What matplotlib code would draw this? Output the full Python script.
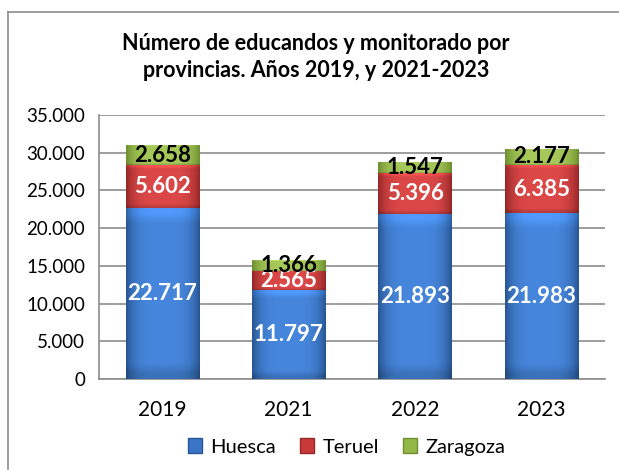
import matplotlib
matplotlib.use("Agg")
import matplotlib.pyplot as plt
import matplotlib.patches as patches
import numpy as np

plt.rcParams['font.family'] = ['Lato', 'DejaVu Sans']

years = ["2019", "2021", "2022", "2023"]
huesca = [22717, 11797, 21893, 21983]
teruel = [5602, 2565, 5396, 6385]
zaragoza = [2658, 1366, 1547, 2177]
yticks = [0, 5000, 10000, 15000, 20000, 25000, 30000, 35000]

title = "Número de educandos y monitorado por\nprovincias. Años 2019, y 2021-2023"

# base colour, light colour (centre), dark colour (edges), label colour
styles = {
    "Huesca": ("#3a74c6", "#4686dc", "#285693", "white"),
    "Teruel": ("#c93939", "#dc4848", "#982828", "white"),
    "Zaragoza": ("#93b848", "#a6c95a", "#6f8f30", "black"),
}


def fmt(v):
    return f"{v:,}".replace(",", ".")


def shade(ax, bar, light, dark):
    # horizontal bevel-ish gradient, clipped to the bar
    x0, y0 = bar.get_x(), bar.get_y()
    w, h = bar.get_width(), bar.get_height()
    t = np.linspace(-1, 1, 64)
    prof = np.clip(np.abs(t) ** 4, 0, 1)
    c1 = np.array(matplotlib.colors.to_rgb(light))
    c2 = np.array(matplotlib.colors.to_rgb(dark))
    row = c1[None, :] * (1 - prof[:, None]) + c2[None, :] * prof[:, None]
    img = np.repeat(row[None, :, :], 16, axis=0)
    # lighter top strip
    img[-1] = np.clip(img[-1] * 1.15, 0, 1)
    img[0] = img[0] * 0.85
    im = ax.imshow(img, extent=[x0, x0 + w, y0, y0 + h], origin="lower",
                   aspect="auto", zorder=3, interpolation="bilinear")
    im.set_clip_path(bar)


fig = plt.figure(figsize=(6.19, 4.70), dpi=100)
ax = fig.add_axes([0.16, 0.1936, 0.817, 0.5617])

# outer chart border (left and top visible)
fig.add_artist(plt.Line2D([8 / 619, 8 / 619], [0, 1 - 12 / 470], color="#8c8c8c", lw=1.2))
fig.add_artist(plt.Line2D([8 / 619, 1], [1 - 12 / 470, 1 - 12 / 470], color="#8c8c8c", lw=1.2))

x = np.arange(len(years))
bottom = np.zeros(len(years))
handles = []
for name, vals in [("Huesca", huesca), ("Teruel", teruel), ("Zaragoza", zaragoza)]:
    base, light, dark, tc = styles[name]
    bars = ax.bar(x, vals, 0.58, bottom=bottom, color=base, edgecolor="none",
                  zorder=2, label=name)
    for b, v in zip(bars, vals):
        shade(ax, b, light, dark)
        ax.text(b.get_x() + b.get_width() / 2, b.get_y() + b.get_height() / 2,
                fmt(v), ha="center", va="center", color=tc, fontsize=16,
                fontweight="bold", zorder=5)
    handles.append(patches.Patch(facecolor=base, edgecolor=dark, label=name))
    bottom += np.array(vals)

ax.set_xlim(-0.5, len(years) - 0.5)
ax.set_ylim(0, 35000)
ax.set_yticks(yticks)
ax.set_yticklabels([fmt(v) for v in yticks], fontsize=13.5)
ax.set_xticks(x)
ax.set_xticklabels(years, fontsize=15)
ax.tick_params(axis="both", length=0, pad=10)
ax.tick_params(axis="x", pad=15)
ax.yaxis.grid(True, color="#8c8c8c", lw=1.2, zorder=0)
ax.set_axisbelow(True)
for s in ["top", "right"]:
    ax.spines[s].set_visible(False)
ax.spines["left"].set_color("#8c8c8c")
ax.spines["bottom"].set_color("#8c8c8c")
ax.spines["left"].set_linewidth(1.2)
ax.spines["bottom"].set_linewidth(1.2)

fig.text(0.51, 1 - 57 / 470, title, ha="center", va="center", fontsize=15.5,
         fontweight="bold", linespacing=1.35)

fig.legend(handles=handles, loc="center", bbox_to_anchor=(0.56, 1 - 447 / 470),
           ncol=3, frameon=False, fontsize=14.5, handlelength=0.7, handleheight=0.7,
           handletextpad=0.4, columnspacing=1.2)

fig.savefig("out.png", dpi=100)
